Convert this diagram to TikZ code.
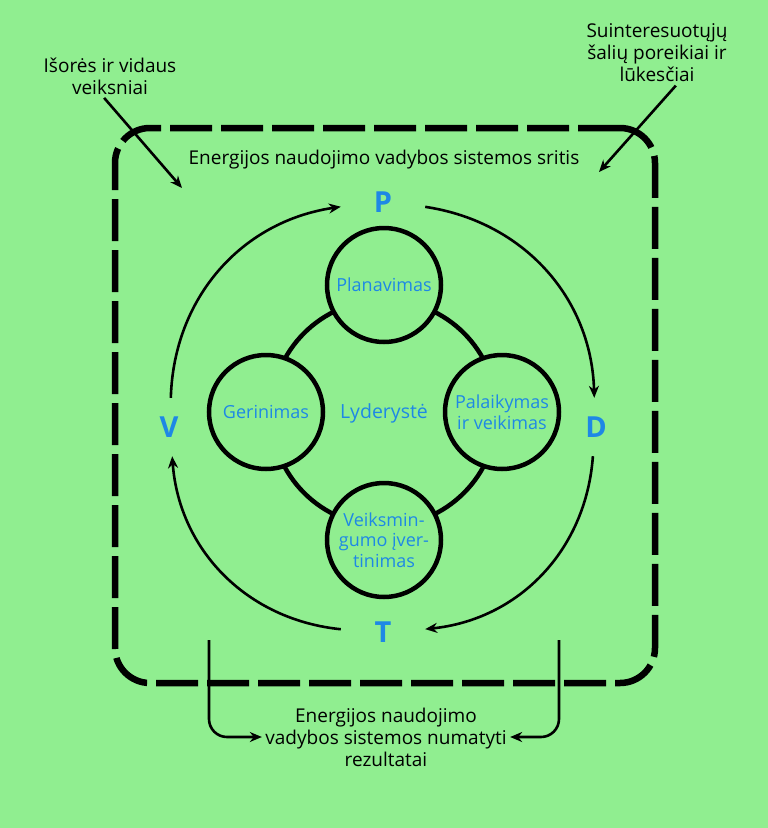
\documentclass[tikz,border=0pt]{standalone}
\usepackage{fontspec}
\setmainfont{Open Sans}
\usepackage{xcolor}
\definecolor{bggreen}{RGB}{144,238,144}
\definecolor{pdcablue}{RGB}{30,136,229}
\usetikzlibrary{arrows.meta,positioning}

\begin{document}
\begin{tikzpicture}[x=1pt, y=-1pt,
  lbl/.style={align=center, font=\fontsize{19}{22}\selectfont, text=black},
  stage/.style={draw, line width=4.5pt, fill=bggreen, circle, minimum size=114pt, inner sep=0pt, align=center, text=pdcablue, font=\fontsize{18}{20.5}\selectfont},
  letter/.style={rectangle, minimum width=84pt, minimum height=58pt, inner sep=0pt, text=pdcablue, font=\fontsize{29}{30}\selectfont\bfseries},
  cyc/.style={-{Stealth[length=12pt,width=10pt]}, line width=2.6pt},
  region/.style={draw, line width=6.5pt, rounded corners=35pt, dash pattern=on 42pt off 9pt, minimum width=540pt, minimum height=555pt}
]
  %% Background and page size
  \fill[bggreen] (0,0) rectangle (768,828);
  \useasboundingbox (0,0) rectangle (768,828);

  %% Scope of the system (dashed frame)
  \node[region] (sritis) at (385,405.5) {};
  \node[lbl] (title) at (384,160) {Energijos naudojimo vadybos sistemos sritis};

  %% Inputs (top)
  \node[lbl] (isores) at (110,76) {Išorės ir vidaus\\veiksniai};
  \node[lbl] (suint)  at (657,53) {Suinteresuotųjų\\šalių poreikiai ir\\lūkesčiai};
  \coordinate (isoresEnd) at (182,188);
  \coordinate (suintEnd)  at (599,172);
  \draw[cyc] (isores.255) -- (isoresEnd);
  \draw[cyc] (suint.300)  -- (suintEnd);

  %% Leadership ring with the four stages
  \node[text=pdcablue, font=\fontsize{19.5}{20}\selectfont] (lyd) at (384,413) {Lyderystė};
  \draw[line width=4.5pt] (lyd.center) circle[radius=113];
  \node[stage] (plan) at (384,285) {Planavimas};
  \node[stage] (palk) at (502,412) {Palaikymas\\ir veikimas};
  \node[stage] (vert) at (384,540) {Veiksmin-\\gumo įver-\\tinimas};
  \node[stage] (ger)  at (266,412) {Gerinimas};

  %% P-D-T-V cycle
  \node[letter] (P) at (383,202) {P};
  \node[letter] (D) at (596,427) {D};
  \node[letter] (T) at (383,632) {T};
  \node[letter] (V) at (169,427) {V};
  \draw[cyc] (P) to[bend left=40] (D);
  \draw[cyc] (D) to[bend left=40] (T);
  \draw[cyc] (T) to[bend left=40] (V);
  \draw[cyc] (V) to[bend left=40] (P);

  %% Outputs (bottom)
  \node[lbl] (rez) at (386,737) {Energijos naudojimo\\vadybos sistemos numatyti\\rezultatai};
  \coordinate (outL) at (209,640);
  \coordinate (outR) at (559,640);
  \draw[cyc, rounded corners=18pt] (outL) |- (rez.west);
  \draw[cyc, rounded corners=18pt] (outR) |- (rez.east);
\end{tikzpicture}
\end{document}
